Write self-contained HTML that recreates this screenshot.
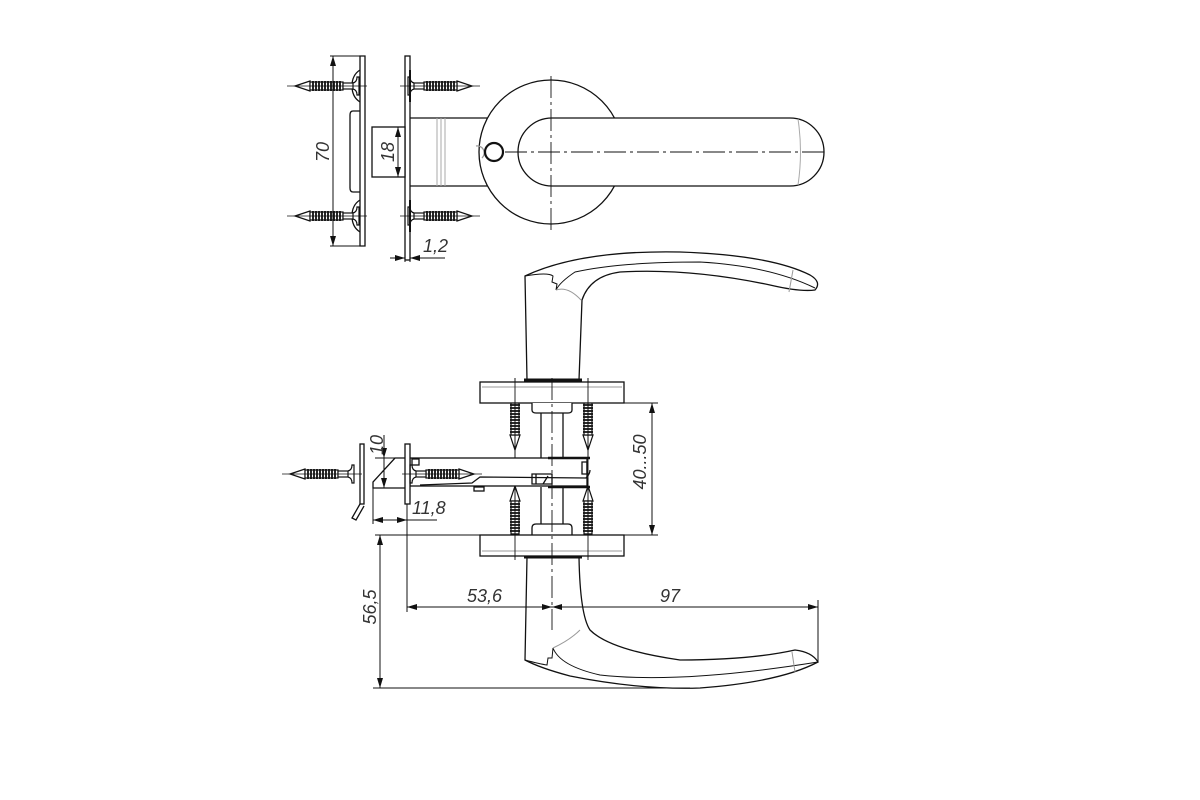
<!DOCTYPE html>
<html><head><meta charset="utf-8"><style>
html,body{margin:0;padding:0;background:#fff}
svg{display:block}
text{font-family:"Liberation Sans",sans-serif;font-style:italic;fill:#333;font-size:18px}
</style></head><body>
<svg width="1200" height="800" viewBox="0 0 1200 800" xmlns="http://www.w3.org/2000/svg">
<defs>
<g id="screw" fill="none" stroke="#111" stroke-width="1.2">
  <path d="M0 0 L15 -5 L15 5 Z" fill="#fff"/>
  <rect x="15" y="-4" width="33" height="8" fill="#fff"/>
  <path d="M18 -5V5M21 -5V5M24 -5V5M27 -5V5M30 -5V5M33 -5V5M36 -5V5M39 -5V5M42 -5V5M45 -5V5" stroke-width="1.8"/>
  <rect x="48" y="-3" width="10" height="6" fill="#fff"/>
  <path d="M58 -3 Q62 -4 62 -9 L64 -9 L64 9 L62 9 Q62 4 58 3"/>
  <line x1="-8" y1="0" x2="72" y2="0" stroke-width="0.8"/>
</g>
<marker id="ar" viewBox="0 0 10 6" refX="10" refY="3" markerWidth="10" markerHeight="6" orient="auto-start-reverse" markerUnits="userSpaceOnUse"><path d="M0 0L10 3L0 6Z" fill="#111"/></marker>
</defs>
<g fill="none" stroke="#111" stroke-width="1.3">
<!-- ===== TOP VIEW ===== -->
<path d="M360 56 H365 V246 H360 Z" fill="#fff"/>
<path d="M360 70 Q352 75 352 86 Q352 97 360 102"/>
<path d="M360 200 Q352 205 352 216 Q352 227 360 232"/>
<path d="M360 111 H353 Q350 111 350 115 V188 Q350 192 353 192 H360"/>
<use href="#screw" x="295" y="86"/>
<use href="#screw" x="295" y="216"/>
<line x1="333" y1="56" x2="333" y2="246" stroke-width="1" marker-start="url(#ar)" marker-end="url(#ar)"/>
<line x1="330" y1="56" x2="365" y2="56" stroke-width="1"/>
<line x1="330" y1="246" x2="365" y2="246" stroke-width="1"/>
<rect x="405" y="56" width="5" height="204" fill="#fff"/>
<path d="M410 70 V102 M410 200 V232" stroke-width="2"/>
<use href="#screw" x="472" y="86" transform="rotate(180 472 86)"/>
<use href="#screw" x="472" y="216" transform="rotate(180 472 216)"/>
<rect x="372" y="127" width="33" height="50" fill="#fff"/>
<line x1="398" y1="127" x2="398" y2="177" stroke-width="1" marker-start="url(#ar)" marker-end="url(#ar)"/>
<path d="M410 118 H490 M410 186 H490"/>
<path d="M437 118 V186 M441 118 V186 M445 118 V186" stroke="#aaa" stroke-width="1"/>
<circle cx="551" cy="152" r="72" fill="#fff"/>
<path d="M476 146 A7 7 0 0 1 482 158" stroke="#999"/>
<circle cx="494" cy="152" r="9" stroke-width="2.2"/>
<path d="M790 118 H552 A34 34 0 0 0 552 186 H790 A34 34 0 0 0 790 118 Z" fill="#fff"/>
<path d="M798 119 Q803 152 798 185" stroke="#aaa" stroke-width="1"/>
<line x1="505" y1="152" x2="825" y2="152" stroke-width="0.9" stroke-dasharray="22 4 3 4"/>
<line x1="551" y1="76" x2="551" y2="230" stroke-width="0.9" stroke-dasharray="22 4 3 4"/>
<line x1="405" y1="252" x2="405" y2="262" stroke-width="1"/>
<line x1="410" y1="250" x2="410" y2="262" stroke-width="1"/>
<line x1="390" y1="258" x2="405" y2="258" stroke-width="1" marker-end="url(#ar)"/>
<line x1="425" y1="258" x2="410" y2="258" stroke-width="1" marker-end="url(#ar)"/>
<line x1="410" y1="258" x2="445" y2="258" stroke-width="1"/>

<!-- ===== FRONT VIEW ===== -->
<path d="M527 380 L525 276 Q580 250 680 252 Q770 255 810 275 Q822 282 815 290 Q800 292 770 285 Q690 268 620 272 Q590 276 582 300 L579 380" fill="#fff"/>
<path d="M525 276 Q548 272 553 276 L552 282 L557 284 L556 290 Q560 282 575 272 Q620 262 700 262 Q770 266 815 288" stroke-width="1"/>
<path d="M556 290 Q568 286 581 300" stroke="#999" stroke-width="1"/>
<path d="M793 270 L789 292" stroke="#999" stroke-width="1"/>
<path d="M524 380 H582" stroke-width="3"/>
<!-- vertical screws (drawn first, heads hidden by rosettes) -->
<use href="#screw" x="515" y="450" transform="rotate(-90 515 450)"/>
<use href="#screw" x="588" y="450" transform="rotate(-90 588 450)"/>
<use href="#screw" x="515" y="486" transform="rotate(90 515 486)"/>
<use href="#screw" x="588" y="486" transform="rotate(90 588 486)"/>
<rect x="480" y="382" width="144" height="21" fill="#fff"/>
<line x1="482" y1="387" x2="622" y2="387" stroke="#999" stroke-width="1"/>
<path d="M532 403 V410 Q532 413 536 413 H568 Q572 413 572 410 V403" fill="#fff"/>
<path d="M541 413 V458 M563 413 V458 M541 487 V524 M563 487 V524"/>
<path d="M532 535 V528 Q532 524 536 524 H568 Q572 524 572 528 V535" fill="#fff"/>
<rect x="480" y="535" width="144" height="21" fill="#fff"/>
<line x1="482" y1="551" x2="622" y2="551" stroke="#999" stroke-width="1"/>
<line x1="515" y1="378" x2="515" y2="560" stroke-width="0.9"/>
<line x1="588" y1="378" x2="588" y2="560" stroke-width="0.9"/>
<rect x="410" y="458" width="177" height="28" fill="#fff"/>
<path d="M548 458 H590 M548 487 H590" stroke-width="2.5"/>
<path d="M582 462 H587 V474 H582 Z"/>
<path d="M532 474 H552 V484 H532 Z M536 474 V484 M543 484 L548 476"/>
<path d="M420 485 L472 483 L480 477 L586 478 Q590 474 590 470"/>
<rect x="474" y="487" width="10" height="4"/>
<rect x="412" y="459" width="7" height="6"/>
<rect x="405" y="444" width="5" height="60" fill="#fff"/>
<rect x="360" y="444" width="4" height="60" fill="#fff"/>
<path d="M360 504 L352 518 L356 520 L364 506"/>
<use href="#screw" x="290" y="474"/>
<use href="#screw" x="474" y="474" transform="rotate(180 474 474)"/>
<path d="M405 458 H395 L373 482 V488 H405"/>
<line x1="384" y1="435" x2="384" y2="458" stroke-width="1" marker-end="url(#ar)"/>
<line x1="384" y1="488" x2="384" y2="458" stroke-width="1" marker-start="url(#ar)"/>
<line x1="375" y1="458" x2="398" y2="458" stroke-width="1"/>
<line x1="373" y1="488" x2="373" y2="524" stroke-width="1"/>
<line x1="407" y1="504" x2="407" y2="612" stroke-width="1"/>
<line x1="373" y1="520" x2="407" y2="520" stroke-width="1" marker-start="url(#ar)" marker-end="url(#ar)"/>
<line x1="407" y1="520" x2="437" y2="520" stroke-width="1"/>
<line x1="624" y1="403" x2="658" y2="403" stroke-width="1"/>
<line x1="375" y1="535" x2="658" y2="535" stroke-width="1"/>
<line x1="652" y1="403" x2="652" y2="535" stroke-width="1" marker-start="url(#ar)" marker-end="url(#ar)"/>
<path d="M527 557 L525 660 Q540 668 570 676 Q640 690 700 688 Q780 682 818 662 Q812 652 795 650 Q750 660 680 660 Q610 650 590 630 Q580 615 579 557" fill="#fff"/>
<path d="M525 660 Q540 664 547 665 L548 658 L552 658 L553 648 Q560 666 600 675 Q680 684 818 662" stroke-width="1"/>
<path d="M553 648 Q570 640 580 630" stroke="#999" stroke-width="1"/>
<path d="M792 652 L795 672" stroke="#999" stroke-width="1"/>
<path d="M524 557 H582" stroke-width="3"/>
<line x1="552" y1="378" x2="552" y2="630" stroke-width="0.9" stroke-dasharray="22 4 3 4"/>
<line x1="407" y1="607" x2="552" y2="607" stroke-width="1" marker-start="url(#ar)" marker-end="url(#ar)"/>
<line x1="552" y1="607" x2="818" y2="607" stroke-width="1" marker-start="url(#ar)" marker-end="url(#ar)"/>
<line x1="818" y1="600" x2="818" y2="662" stroke-width="1"/>
<line x1="380" y1="535" x2="380" y2="688" stroke-width="1" marker-start="url(#ar)" marker-end="url(#ar)"/>
<line x1="373" y1="688" x2="690" y2="688" stroke-width="1"/>
</g>
<text transform="translate(329 152) rotate(-90)" text-anchor="middle">70</text>
<text transform="translate(394 152) rotate(-90)" text-anchor="middle">18</text>
<text x="423" y="252">1,2</text>
<text transform="translate(383 445) rotate(-90)" text-anchor="middle">10</text>
<text x="412" y="514">11,8</text>
<text transform="translate(646 462) rotate(-90)" text-anchor="middle">40...50</text>
<text x="467" y="602">53,6</text>
<text x="660" y="602">97</text>
<text transform="translate(376 607) rotate(-90)" text-anchor="middle">56,5</text>
</svg>
</body></html>
